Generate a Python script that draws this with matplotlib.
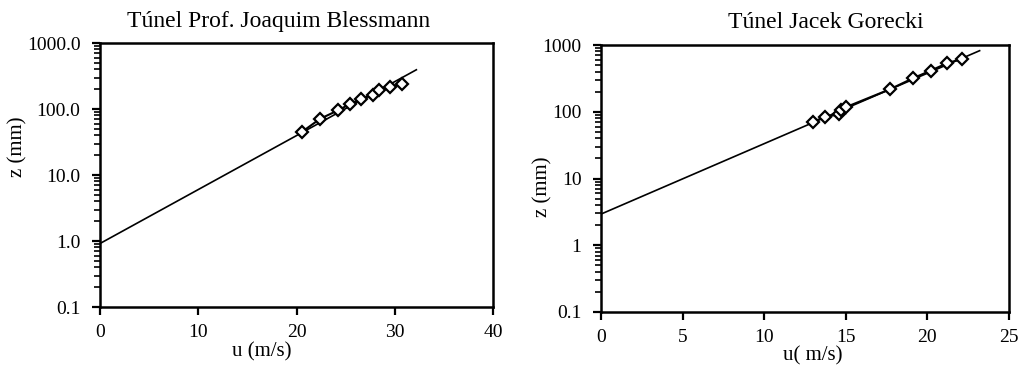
import matplotlib
matplotlib.use("Agg")
import matplotlib.pyplot as plt
from matplotlib.ticker import FixedLocator, LogLocator, NullFormatter, NullLocator

plt.rcParams['font.family'] = ['Liberation Serif', 'DejaVu Serif']

# Túnel Prof. Joaquim Blessmann
bl_u = [20.6, 22.4, 24.2, 25.4, 26.6, 27.8, 28.4, 29.5, 30.7]
bl_z = [45.5, 71, 95, 118, 143, 164, 191, 214, 238]
bl_fit_u = [0.0, 32.2]
bl_fit_z = [0.916, 393]

# Túnel Jacek Gorecki
jg_u = [13.0, 13.7, 14.6, 14.7, 15.0, 17.7, 19.1, 20.2, 21.2, 22.1]
jg_z = [71, 83, 92, 106, 117, 217, 316, 413, 532, 617]
jg_fit_u = [0.0, 23.2]
jg_fit_z = [2.93, 822]

y_ticks = [0.1, 1, 10, 100, 1000]
bl_ylabels = ['0.1', '1.0', '10.0', '100.0', '1000.0']
jg_ylabels = ['0.1', '1', '10', '100', '1000']
bl_xticks = [0, 10, 20, 30, 40]
jg_xticks = [0, 5, 10, 15, 20, 25]

W, H = 1021, 367
fig = plt.figure(figsize=(W / 100, H / 100), dpi=100)
ax1 = fig.add_axes([100 / W, 1 - 307 / H, 393 / W, 264 / H])
ax2 = fig.add_axes([601 / W, 1 - 312 / H, 408 / W, 267 / H])


def px_text(x, y, s, **kw):
    # place text by pixel position (from top-left)
    fig.text(x / W, 1 - y / H, s, ha='center', va='center', **kw)


def style_axis(ax, u, z, fu, fz, xticks, ylabels):
    ax.plot(fu, fz, color='black', lw=1.2)
    ax.plot(u, z, color='black', lw=1.5, marker='D', markersize=6,
            markerfacecolor='white', markeredgecolor='black', markeredgewidth=1.6)
    ax.set_yscale('log')
    ax.set_ylim(0.1, 1000)
    ax.set_xlim(xticks[0], xticks[-1])
    ax.yaxis.set_major_locator(FixedLocator(y_ticks))
    ax.set_yticklabels(ylabels)
    ax.yaxis.set_minor_locator(LogLocator(base=10, subs=range(2, 10)))
    ax.yaxis.set_minor_formatter(NullFormatter())
    ax.set_xticks(xticks)
    ax.xaxis.set_minor_locator(NullLocator())
    ax.tick_params(axis='both', which='major', direction='out', length=6, width=1.6,
                   labelsize=14)
    ax.tick_params(axis='x', which='major', pad=6)
    ax.tick_params(axis='y', which='major', pad=8)
    ax.tick_params(axis='y', which='minor', direction='out', length=4, width=1.2)
    for sp in ax.spines.values():
        sp.set_linewidth(1.8)


style_axis(ax1, bl_u, bl_z, bl_fit_u, bl_fit_z, bl_xticks, bl_ylabels)
style_axis(ax2, jg_u, jg_z, jg_fit_u, jg_fit_z, jg_xticks, jg_ylabels)

px_text(279, 22, 'Túnel Prof. Joaquim Blessmann', fontsize=17)
px_text(826, 22, 'Túnel Jacek Gorecki', fontsize=17)
px_text(262, 352, 'u (m/s)', fontsize=15)
px_text(813, 356, 'u( m/s)', fontsize=15)
px_text(18, 147, 'z (mm)', fontsize=15, rotation=90)
px_text(543, 187, 'z (mm)', fontsize=15, rotation=90)

fig.savefig('out.png', dpi=100)
